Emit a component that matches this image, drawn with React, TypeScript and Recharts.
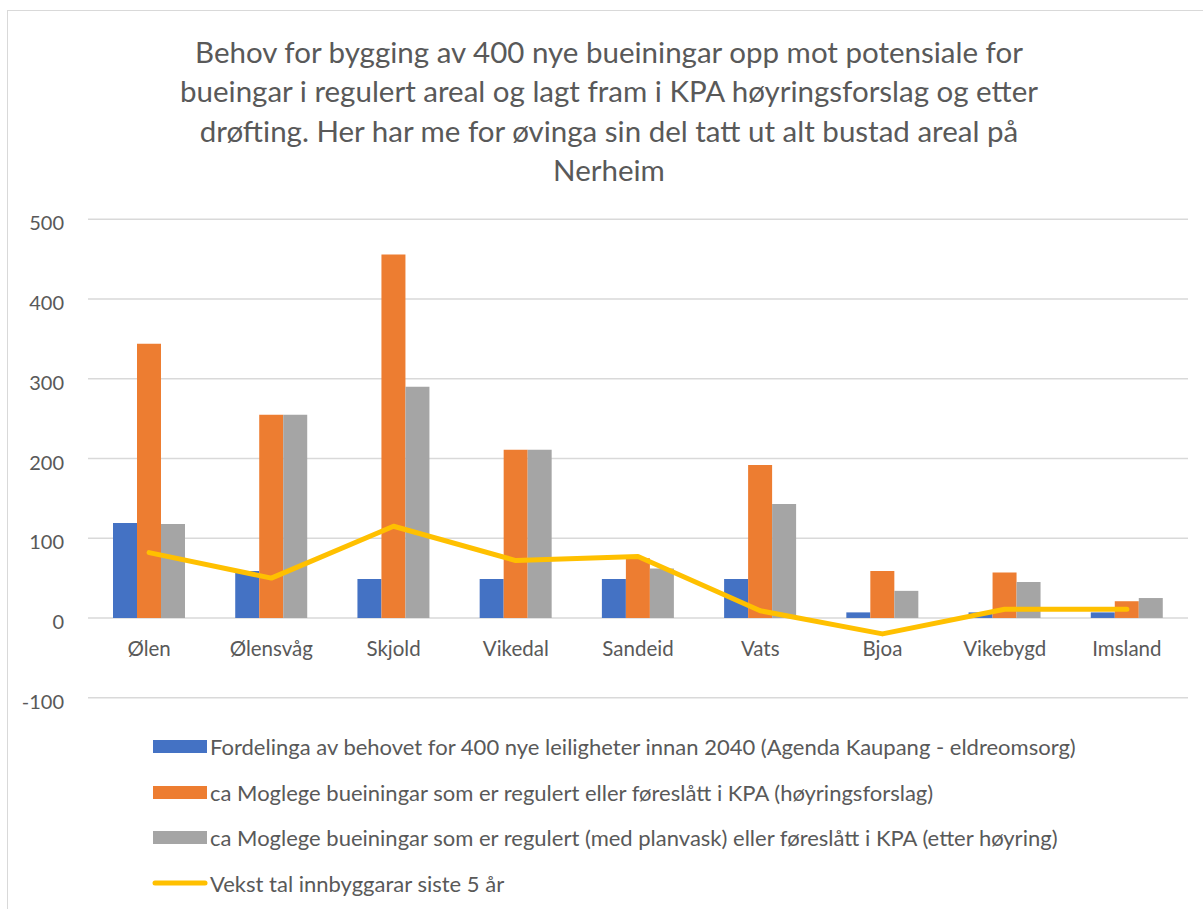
import React from 'react';
import { ComposedChart, Bar, Line, XAxis, YAxis, CartesianGrid, Legend } from 'recharts';

const categories = ['Ølen', 'Ølensvåg', 'Skjold', 'Vikedal', 'Sandeid', 'Vats', 'Bjoa', 'Vikebygd', 'Imsland'];
const behov = [119, 59, 49, 49, 49, 49, 7, 7, 7];
const horingsforslag = [344, 255, 456, 211, 75, 192, 59, 57, 21];
const etterHoring = [118, 255, 290, 211, 62, 143, 34, 45, 25];
const vekst = [82, 50, 115, 72, 77, 9, -20, 11, 11];
const yTicks = [-100, 0, 100, 200, 300, 400, 500];

const seriesNames = {
  behov: 'Fordelinga av behovet for 400 nye leiligheter innan 2040 (Agenda Kaupang - eldreomsorg)',
  horing: 'ca Moglege bueiningar som er regulert eller føreslått i KPA (høyringsforslag)',
  etter: 'ca Moglege bueiningar som er regulert (med planvask) eller føreslått i KPA (etter høyring)',
  vekst: 'Vekst tal innbyggarar siste 5 år',
};
const legendOrder = ['behov', 'horing', 'etter', 'vekst'];

const titleLines = [
  'Behov for bygging av 400 nye bueiningar opp mot potensiale for',
  'bueingar i regulert areal og lagt fram i KPA høyringsforslag og etter',
  'drøfting. Her har me for øvinga sin del tatt ut alt bustad areal på',
  'Nerheim',
];

const data = categories.map((c, i) => ({
  name: c,
  behov: behov[i],
  horing: horingsforslag[i],
  etter: etterHoring[i],
  vekst: vekst[i],
}));

const FONT = 'Lato, "Open Sans", sans-serif';
const TEXT = '#595959';

const CategoryTick = (props: any) => {
  const { x, y, payload } = props;
  return (
    <text x={x} y={y - 50} textAnchor="middle" dominantBaseline="central" fill={TEXT} fontSize={20.5} fontFamily={FONT}>
      {payload.value}
    </text>
  );
};

const LegendContent = (props: any) => {
  const items = [...(props.payload || [])].sort(
    (a: any, b: any) => legendOrder.indexOf(a.dataKey) - legendOrder.indexOf(b.dataKey)
  );
  return (
    <div style={{ fontFamily: FONT }}>
      {items.map((p: any, i: number) => (
        <div key={i} style={{ display: 'flex', alignItems: 'center', height: 45.5 }}>
          {p.type === 'line' ? (
            <svg width={56} height={14} style={{ display: 'block' }}>
              <line x1={3} y1={7} x2={53} y2={7} stroke={p.color} strokeWidth={5} strokeLinecap="round" />
            </svg>
          ) : (
            <div style={{ width: 54, height: 13, background: p.color, marginLeft: 1, marginRight: 1 }} />
          )}
          <span style={{ color: TEXT, fontSize: 22, marginLeft: 2, whiteSpace: 'nowrap' }}>{p.value}</span>
        </div>
      ))}
    </div>
  );
};

export default function App() {
  return (
    <div style={{ position: 'absolute', left: 0, top: 0, width: 1203, height: 909, overflow: 'hidden', background: '#fff' }}>
      <div style={{ position: 'absolute', left: 7, top: 10, width: 1220, height: 940, border: '1.5px solid #d9d9d9', boxSizing: 'border-box' }} />
      <div
        style={{
          position: 'absolute',
          left: 7,
          top: 32,
          width: 1204,
          textAlign: 'center',
          fontFamily: FONT,
          fontSize: 29.5,
          lineHeight: '39.3px',
          color: TEXT,
        }}
      >
        {titleLines.map((l, i) => (
          <div key={i} style={{ whiteSpace: 'nowrap' }}>{l}</div>
        ))}
      </div>
      <div style={{ position: 'absolute', left: 0, top: 0 }}>
        <ComposedChart
          width={1203}
          height={909}
          data={data}
          margin={{ top: 219.3, right: 15, bottom: 181.3, left: 0 }}
          barGap={0}
          barCategoryGap={25}
          style={{ fontFamily: FONT }}
        >
          <CartesianGrid horizontal vertical={false} stroke="#d9d9d9" strokeWidth={1.5} />
          <XAxis dataKey="name" axisLine={false} tickLine={false} tickSize={0} tickMargin={0} height={30} tick={<CategoryTick />} interval={0} />
          <YAxis
            width={88}
            domain={[-100, 500]}
            ticks={yTicks}
            axisLine={false}
            tickLine={false}
            tickSize={0}
            tickMargin={24}
            tick={{ fill: TEXT, fontSize: 20, fontFamily: FONT, dy: 4 }}
          />
          <Bar dataKey="behov" name={seriesNames.behov} fill="#4472C4" isAnimationActive={false} legendType="rect" />
          <Bar dataKey="horing" name={seriesNames.horing} fill="#ED7D31" isAnimationActive={false} legendType="rect" />
          <Bar dataKey="etter" name={seriesNames.etter} fill="#A5A5A5" isAnimationActive={false} legendType="rect" />
          <Line
            dataKey="vekst"
            name={seriesNames.vekst}
            type="linear"
            stroke="#FFC000"
            strokeWidth={5}
            strokeLinecap="round"
            strokeLinejoin="round"
            dot={false}
            activeDot={false}
            isAnimationActive={false}
            legendType="line"
          />
          <Legend
            layout="vertical"
            align="center"
            verticalAlign="middle"
            content={<LegendContent />}
            wrapperStyle={{ left: 152, top: 724, width: 1040, height: 182 }}
          />
        </ComposedChart>
      </div>
    </div>
  );
}
